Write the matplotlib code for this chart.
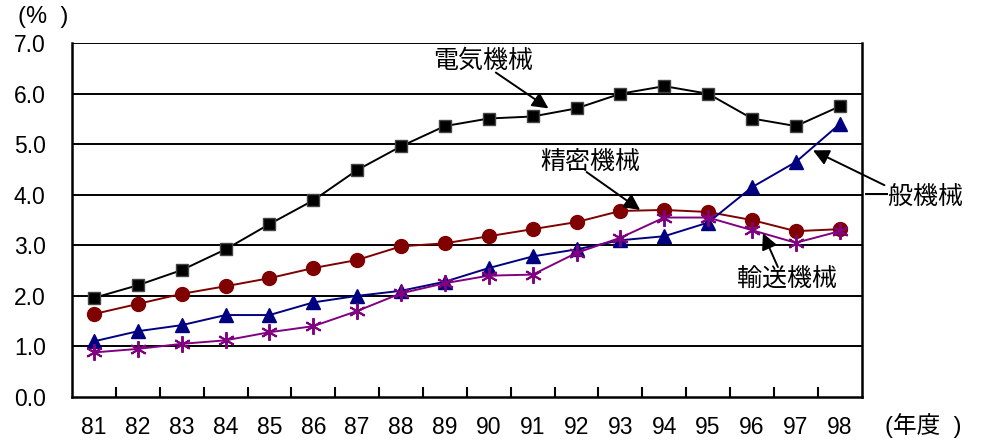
import matplotlib.pyplot as plt

plt.rcParams["font.family"] = ["Liberation Sans", "Noto Sans CJK JP", "DejaVu Sans"]

# 年度と各業種のデータ（%）
years = [81, 82, 83, 84, 85, 86, 87, 88, 89, 90, 91, 92, 93, 94, 95, 96, 97, 98]
year_labels = [str(y) for y in years]
denki = [1.96, 2.21, 2.51, 2.92, 3.42, 3.89, 4.49, 4.96, 5.36, 5.51, 5.55, 5.71, 6.0, 6.15, 6.0, 5.51, 5.36, 5.75]
seimitsu = [1.64, 1.84, 2.04, 2.19, 2.35, 2.55, 2.71, 2.98, 3.04, 3.18, 3.32, 3.46, 3.68, 3.70, 3.66, 3.50, 3.28, 3.32]
ippan = [1.10, 1.30, 1.42, 1.62, 1.62, 1.87, 2.00, 2.10, 2.28, 2.55, 2.78, 2.92, 3.10, 3.18, 3.45, 4.15, 4.65, 5.40]
yuso = [0.88, 0.95, 1.05, 1.12, 1.28, 1.40, 1.70, 2.05, 2.25, 2.40, 2.42, 2.85, 3.15, 3.55, 3.55, 3.30, 3.05, 3.28]
yticks = [0, 1, 2, 3, 4, 5, 6, 7]

fig = plt.figure(figsize=(9.87, 4.41), dpi=100)
ax = fig.add_axes([0.073, 0.100, 0.800, 0.802])

# 横罫線
for v in yticks[1:]:
    ax.axhline(v, color="black", lw=1.4, zorder=1)

ax.plot(years, denki, color="black", lw=1.4, marker="s", ms=8.5,
        mfc="black", mec="#444444", zorder=3)
ax.plot(years, seimitsu, color="#800000", lw=1.4, marker="o", ms=10,
        mfc="#800000", mec="#800000", zorder=3)
ax.plot(years, ippan, color="#000080", lw=1.4, marker="^", ms=10.5,
        mfc="#000080", mec="#000080", zorder=3)
ax.plot(years, yuso, color="#800080", lw=1.4, marker=(6, 2, 0), ms=12,
        mew=1.4, mec="#800080", zorder=3)

ax.set_xlim(80.5, 98.5)
ax.set_ylim(0, 7)
ax.set_xticks(years)
ax.set_xticklabels(year_labels)
ax.set_xticks([y + 0.5 for y in years[:-1]], minor=True)
ax.set_yticks(yticks)
ax.set_yticklabels([f"{v:.1f}" for v in yticks])
ax.tick_params(axis="x", which="major", length=0, pad=14, labelsize=16.5)
ax.tick_params(axis="x", which="minor", direction="in", length=7, width=1.5)
ax.tick_params(axis="y", length=0, pad=19, labelsize=16.5)

ax.spines["top"].set_visible(False)
for s in ["left", "bottom", "right"]:
    ax.spines[s].set_linewidth(1.8)

jp = ["Noto Sans CJK JP"]
arrow = dict(arrowstyle="-|>", color="black", lw=1.4, mutation_scale=24,
             shrinkA=0, shrinkB=0)

# 系列名と矢印
ax.text(89.86, 6.66, "電気機械", fontsize=18, family=jp, ha="center", va="center")
ax.annotate("", xy=(91.36, 5.71), xytext=(90.16, 6.42), arrowprops=arrow)

ax.text(92.32, 4.64, "精密機械", fontsize=18, family=jp, ha="center", va="center")
ax.annotate("", xy=(93.45, 3.70), xytext=(92.23, 4.45), arrowprops=arrow)

ax.text(96.80, 2.31, "輸送機械", fontsize=18, family=jp, ha="center", va="center")
ax.annotate("", xy=(96.25, 3.24), xytext=(96.59, 2.57), arrowprops=arrow)

ax.text(98.56, 3.94, "一般機械", fontsize=18, family=jp, ha="left", va="center",
        clip_on=False)
ax.annotate("", xy=(97.39, 4.88), xytext=(99.02, 4.19), arrowprops=arrow,
            annotation_clip=False)

fig.text(0.018, 0.962, "(%  )", fontsize=17, ha="left", va="center")
fig.text(0.897, 0.036, "(年度  )", fontsize=17, ha="left", va="center")

fig.savefig("out.png", dpi=100)
